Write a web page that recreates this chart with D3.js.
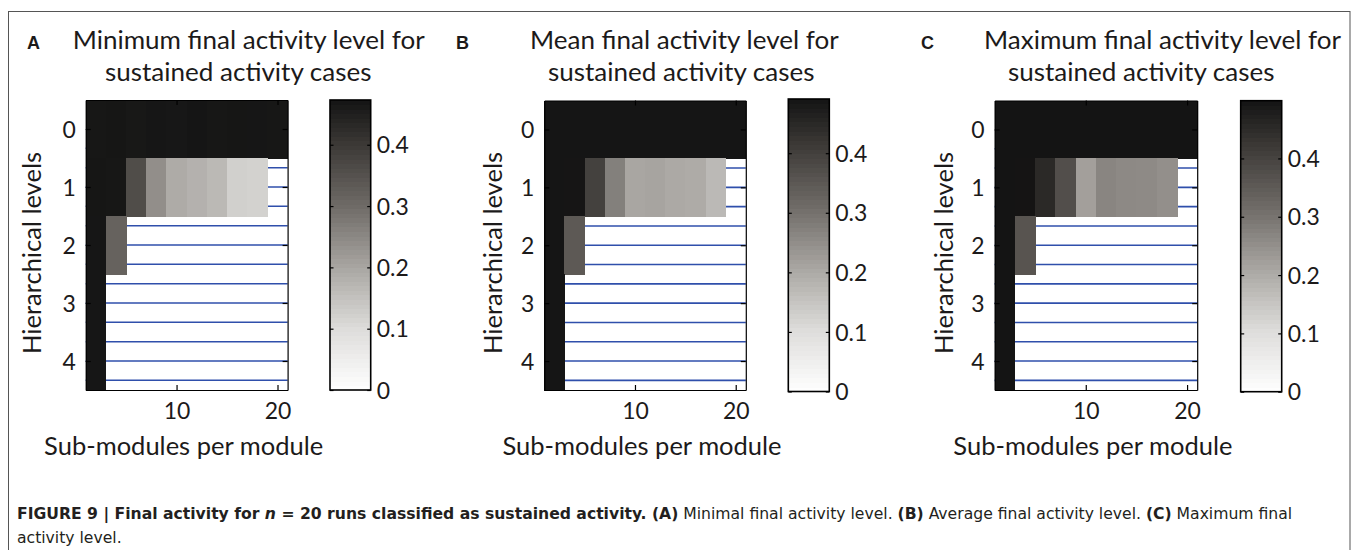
<!DOCTYPE html>
<html>
<head>
<meta charset="utf-8">
<script src="https://cdn.jsdelivr.net/npm/d3@7/dist/d3.min.js"></script>
<style>
  html, body { margin: 0; padding: 0; background: #ffffff; }
  svg { display: block; }
</style>
</head>
<body>
<svg id="chart" width="1359" height="550"></svg>
<script>
// ---------------- DATA ----------------
const subModules = [2, 4, 6, 8, 10, 12, 14, 16, 18, 20];      // x categories
const levels = [0, 1, 2, 3, 4];                                 // y categories
const xTicks = [10, 20];
const cbTicks = [0, 0.1, 0.2, 0.3, 0.4];
const hatchLevels = [0.333, 0.667, 1, 1.333, 1.667, 2, 2.333, 2.667, 3, 3.333, 3.667, 4, 4.333];

// rows = hierarchical levels 0..4, columns = sub-modules 2..20 ; null = no sustained cases
const minActivity = [
  [0.468, 0.470, 0.466, 0.469, 0.467, 0.471, 0.468, 0.470, 0.469, 0.468],
  [0.470, 0.468, 0.361, 0.240, 0.191, 0.180, 0.166, 0.124, 0.120, null],
  [0.469, 0.318, null, null, null, null, null, null, null, null],
  [0.469, null, null, null, null, null, null, null, null, null],
  [0.469, null, null, null, null, null, null, null, null, null]
];
const meanActivity = [
  [0.489, 0.489, 0.489, 0.489, 0.489, 0.489, 0.489, 0.489, 0.489, 0.489],
  [0.489, 0.488, 0.398, 0.275, 0.208, 0.211, 0.202, 0.198, 0.172, null],
  [0.489, 0.349, null, null, null, null, null, null, null, null],
  [0.489, null, null, null, null, null, null, null, null, null],
  [0.489, null, null, null, null, null, null, null, null, null]
];
const maxActivity = [
  [0.499, 0.499, 0.499, 0.499, 0.499, 0.499, 0.499, 0.499, 0.499, 0.499],
  [0.499, 0.498, 0.455, 0.377, 0.223, 0.270, 0.262, 0.261, 0.252, null],
  [0.499, 0.365, null, null, null, null, null, null, null, null],
  [0.499, null, null, null, null, null, null, null, null, null],
  [0.499, null, null, null, null, null, null, null, null, null]
];
const colorMax = [0.473, 0.491, 0.499];

const panelLetters = ["A", "B", "C"];
const titleLine1 = ["Minimum final activity level for", "Mean final activity level for", "Maximum final activity level for"];
const titleLine2 = "sustained activity cases";
const xLabel = "Sub-modules per module";
const yLabel = "Hierarchical levels";

// ---------------- LAYOUT ----------------
const layout = [
  { hx0: 85.7, hx1: 287.6, hy0: 100, hy1: 390, cbx0: 330, cbx1: 370.7, cby0: 100, cby1: 390,
    letterX: 27, t1X: 72.7, t2X: 105, yLabX: 41 },
  { hx0: 544.3, hx1: 745.8, hy0: 100.5, hy1: 390, cbx0: 788.3, cbx1: 829.3, cby0: 99, cby1: 391.5,
    letterX: 456, t1X: 530, t2X: 548, yLabX: 502 },
  { hx0: 994.6, hx1: 1197.2, hy0: 100.5, hy1: 390, cbx0: 1240.7, cbx1: 1281.7, cby0: 100.7, cby1: 391.7,
    letterX: 921, t1X: 984, t2X: 1008, yLabX: 953 }
];
const datasets = [minActivity, meanActivity, maxActivity];

const FONT = "Lato, 'Open Sans', sans-serif";
const TITLE_SIZE = 25.5;
const TXT = "#1c1a1a";
const cmap = d3.scaleLinear()
  .domain([0, 0.21, 0.42, 0.63, 0.85, 1])
  .range(["#ffffff", "#dedddb", "#aaa7a3", "#706c68", "#3b3835", "#141414"])
  .clamp(true);

const svg = d3.select("#chart");

// outer frame
svg.append("rect").attr("x", 8.5).attr("y", 11.5).attr("width", 1341.5).attr("height", 600)
  .attr("fill", "none").attr("stroke", "#555").attr("stroke-width", 1);

// width factor to mimic the original typeface
const probe = svg.append("text").attr("font-family", FONT).attr("font-size", TITLE_SIZE).text(titleLine1[0]);
const K = 352 / probe.node().getComputedTextLength();
probe.remove();
function condense(sel) {
  sel.each(function () {
    const w = this.getComputedTextLength();
    if (w > 0) d3.select(this).attr("textLength", w * K).attr("lengthAdjust", "spacingAndGlyphs");
  });
}

layout.forEach((L, p) => {
  const data = datasets[p];
  const g = svg.append("g");
  const x = d3.scaleLinear().domain([1, 21]).range([L.hx0, L.hx1]);
  const y = d3.scaleLinear().domain([-0.5, 4.5]).range([L.hy0, L.hy1]);
  const color = v => cmap(v / colorMax[p]);

  // blue hatch lines (drawn beneath the image; visible where no data)
  g.selectAll("line.hatch").data(hatchLevels).enter().append("line")
    .attr("x1", x(1)).attr("x2", x(21))
    .attr("y1", d => y(d)).attr("y2", d => y(d))
    .attr("stroke", "#2f4fab").attr("stroke-width", 1.6);

  // cells
  const cells = [];
  levels.forEach((lv, r) => subModules.forEach((sm, c) => {
    const v = data[r][c];
    if (v !== null) cells.push({ lv, sm, v });
  }));
  g.selectAll("rect.cell").data(cells).enter().append("rect")
    .attr("shape-rendering", "crispEdges")
    .attr("x", d => x(d.sm - 1)).attr("width", d => x(d.sm + 1) - x(d.sm - 1) + 0.6)
    .attr("y", d => y(d.lv - 0.5)).attr("height", d => y(d.lv + 0.5) - y(d.lv - 0.5) + 0.6)
    .attr("fill", d => color(d.v));

  // axes (ticks inside, MATLAB box)
  const axB = g.append("g").attr("transform", `translate(0,${L.hy1})`)
    .call(d3.axisBottom(x).tickValues(xTicks).tickSizeInner(-5).tickSizeOuter(0).tickPadding(13.5)
      .tickFormat(d3.format("d")));
  const axT = g.append("g").attr("transform", `translate(0,${L.hy0})`)
    .call(d3.axisTop(x).tickValues(xTicks).tickSizeInner(-5).tickSizeOuter(0).tickFormat(""));
  const axL = g.append("g").attr("transform", `translate(${L.hx0},0)`)
    .call(d3.axisLeft(y).tickValues(levels).tickSizeInner(-5).tickSizeOuter(0).tickPadding(10)
      .tickFormat(d3.format("d")));
  const axR = g.append("g").attr("transform", `translate(${L.hx1},0)`)
    .call(d3.axisRight(y).tickValues(levels).tickSizeInner(-5).tickSizeOuter(0).tickFormat(""));
  [axB, axT, axL, axR].forEach(a => {
    a.select(".domain").attr("stroke", "#000").attr("stroke-width", 1.2);
    a.selectAll(".tick line").attr("stroke", "#000").attr("stroke-width", 1.2);
    a.selectAll("text").attr("font-family", FONT).attr("font-size", 22.5).attr("fill", TXT);
  });
  axL.selectAll("text").attr("dy", "0.36em");
  condense(axB.selectAll("text"));
  condense(axL.selectAll("text"));

  // colorbar
  const cy = d3.scaleLinear().domain([0, colorMax[p]]).range([L.cby1, L.cby0]);
  const nSteps = 64;
  const steps = d3.range(nSteps);
  g.selectAll("rect.cb").data(steps).enter().append("rect")
    .attr("shape-rendering", "crispEdges")
    .attr("x", L.cbx0).attr("width", L.cbx1 - L.cbx0)
    .attr("y", i => cy(colorMax[p] * (i + 1) / nSteps))
    .attr("height", i => cy(colorMax[p] * i / nSteps) - cy(colorMax[p] * (i + 1) / nSteps) + 0.6)
    .attr("fill", i => cmap((i + 0.5) / nSteps));
  g.append("rect").attr("x", L.cbx0).attr("y", L.cby0)
    .attr("width", L.cbx1 - L.cbx0).attr("height", L.cby1 - L.cby0)
    .attr("fill", "none").attr("stroke", "#000").attr("stroke-width", 1.6);
  const cbR = g.append("g").attr("transform", `translate(${L.cbx1},0)`)
    .call(d3.axisRight(cy).tickValues(cbTicks).tickSizeInner(-3.5).tickSizeOuter(0).tickPadding(6)
      .tickFormat(d => d === 0 ? "0" : d3.format(".1f")(d)));
  const cbL = g.append("g").attr("transform", `translate(${L.cbx0},0)`)
    .call(d3.axisLeft(cy).tickValues(cbTicks).tickSizeInner(-3.5).tickSizeOuter(0).tickFormat(""));
  [cbR, cbL].forEach(a => {
    a.select(".domain").remove();
    a.selectAll(".tick line").attr("stroke", "#000").attr("stroke-width", 1.2);
    a.selectAll("text").attr("font-family", FONT).attr("font-size", 22.5).attr("fill", TXT).attr("dy", "0.36em");
  });
  condense(cbR.selectAll("text"));

  // titles
  g.append("text").attr("x", L.letterX).attr("y", 49.3)
    .attr("font-family", "'Liberation Sans', Arial, sans-serif").attr("font-weight", "bold")
    .attr("font-size", 18).attr("fill", TXT).text(panelLetters[p]);
  const t1 = g.append("text").attr("x", L.t1X).attr("y", 49.3)
    .attr("font-family", FONT).attr("font-size", TITLE_SIZE).attr("fill", TXT).text(titleLine1[p]);
  const t2 = g.append("text").attr("x", L.t2X).attr("y", 80.8)
    .attr("font-family", FONT).attr("font-size", TITLE_SIZE).attr("fill", TXT).text(titleLine2);
  condense(t1); condense(t2);

  // axis labels
  const xl = g.append("text").attr("x", (L.hx0 + L.hx1) / 2 - 3).attr("y", 455)
    .attr("text-anchor", "middle").attr("font-family", FONT).attr("font-size", 25)
    .attr("fill", TXT).text(xLabel);
  condense(xl);
  const yl = g.append("text").attr("transform", `translate(${L.yLabX},253) rotate(-90)`)
    .attr("text-anchor", "middle").attr("font-family", FONT).attr("font-size", 25)
    .attr("fill", TXT).text(yLabel);
  condense(yl);
});

// caption
const CAP = "'Liberation Sans Narrow', 'DejaVu Sans Condensed', 'Liberation Sans', sans-serif";
const CAP_STRETCH = 1.085;
const cap1 = svg.append("text").attr("x", 17).attr("y", 519)
  .attr("font-family", CAP).attr("font-size", 16).attr("fill", "#231f20");
const capParts = [
  { t: "FIGURE 9 | Final activity for ", b: true },
  { t: "n", b: true, i: true },
  { t: " = 20 runs classified as sustained activity. ", b: true },
  { t: "(A)", b: true },
  { t: " Minimal final activity level. ", b: false },
  { t: "(B)", b: true },
  { t: " Average final activity level. ", b: false },
  { t: "(C)", b: true },
  { t: " Maximum final", b: false }
];
capParts.forEach(s => {
  cap1.append("tspan").attr("font-weight", s.b ? "bold" : "normal")
    .attr("font-style", s.i ? "italic" : "normal").text(s.t);
});
const cap2 = svg.append("text").attr("x", 17).attr("y", 543)
  .attr("font-family", CAP).attr("font-size", 16).attr("fill", "#231f20")
  .text("activity level.");
[cap1, cap2].forEach(c => {
  const w = c.node().getComputedTextLength();
  c.attr("textLength", w * CAP_STRETCH).attr("lengthAdjust", "spacingAndGlyphs");
});
</script>
</body>
</html>
